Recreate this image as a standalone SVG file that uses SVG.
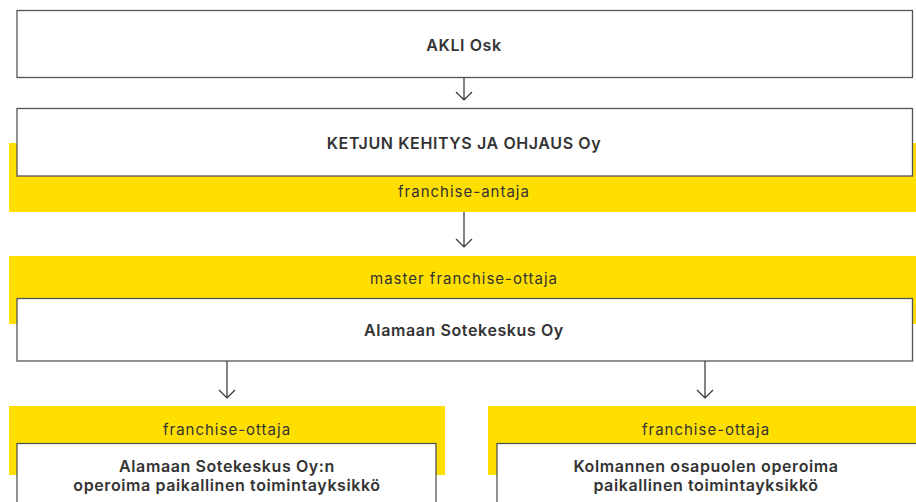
<svg xmlns="http://www.w3.org/2000/svg" width="916" height="502" viewBox="0 0 916 502">
<style>
.band{fill:#FFDF00}
.box{fill:#fff;stroke:#555;stroke-width:1.3}
.t{font-family:Inter,"Noto Sans",sans-serif;font-size:16px;font-weight:600;fill:#333;text-anchor:middle;letter-spacing:0.6px}
.l{font-family:Inter,"Noto Sans",sans-serif;font-size:15px;font-weight:400;fill:#333;text-anchor:middle;letter-spacing:1px}
.c{fill:none;stroke:#333;stroke-width:1.2}
</style>
<rect width="916" height="502" fill="#fff"/>
<g id="akli">
<rect class="box" x="17" y="10.5" width="895.5" height="67"/>
<text class="t" x="464" y="51">AKLI Osk</text>
</g>
<g id="ketjun">
<rect class="band" x="9" y="143" width="907" height="69"/>
<rect class="box" x="17" y="108.5" width="895.5" height="67.5"/>
<text class="t" x="464" y="149">KETJUN KEHITYS JA OHJAUS Oy</text>
<text class="l" x="464" y="197">franchise-antaja</text>
</g>
<g id="alamaan">
<rect class="band" x="9" y="256" width="907" height="68"/>
<text class="l" x="464" y="284">master franchise-ottaja</text>
<rect class="box" x="17" y="298.5" width="895.5" height="62.5"/>
<text class="t" x="464" y="336">Alamaan Sotekeskus Oy</text>
</g>
<g id="local1">
<rect class="band" x="9" y="406" width="436" height="69"/>
<text class="l" x="227" y="435">franchise-ottaja</text>
<rect class="box" x="17" y="443.5" width="419" height="70"/>
<text class="t" x="227" y="472">Alamaan Sotekeskus Oy:n</text>
<text class="t" x="227" y="491">operoima paikallinen toimintayksikkö</text>
</g>
<g id="local2">
<rect class="band" x="488" y="406" width="428" height="69"/>
<text class="l" x="706" y="435">franchise-ottaja</text>
<rect class="box" x="497" y="443.5" width="425" height="70"/>
<text class="t" x="706" y="472">Kolmannen osapuolen operoima</text>
<text class="t" x="706" y="491">paikallinen toimintayksikkö</text>
</g>
<g id="connectors">
<path class="c" d="M464 77.5V100M456 92L464 100L472 92"/>
<path class="c" d="M464 212V247M456 239L464 247L472 239"/>
<path class="c" d="M227 361V398M219 390L227 398L235 390"/>
<path class="c" d="M705 361V398M697 390L705 398L713 390"/>
</g>
</svg>
